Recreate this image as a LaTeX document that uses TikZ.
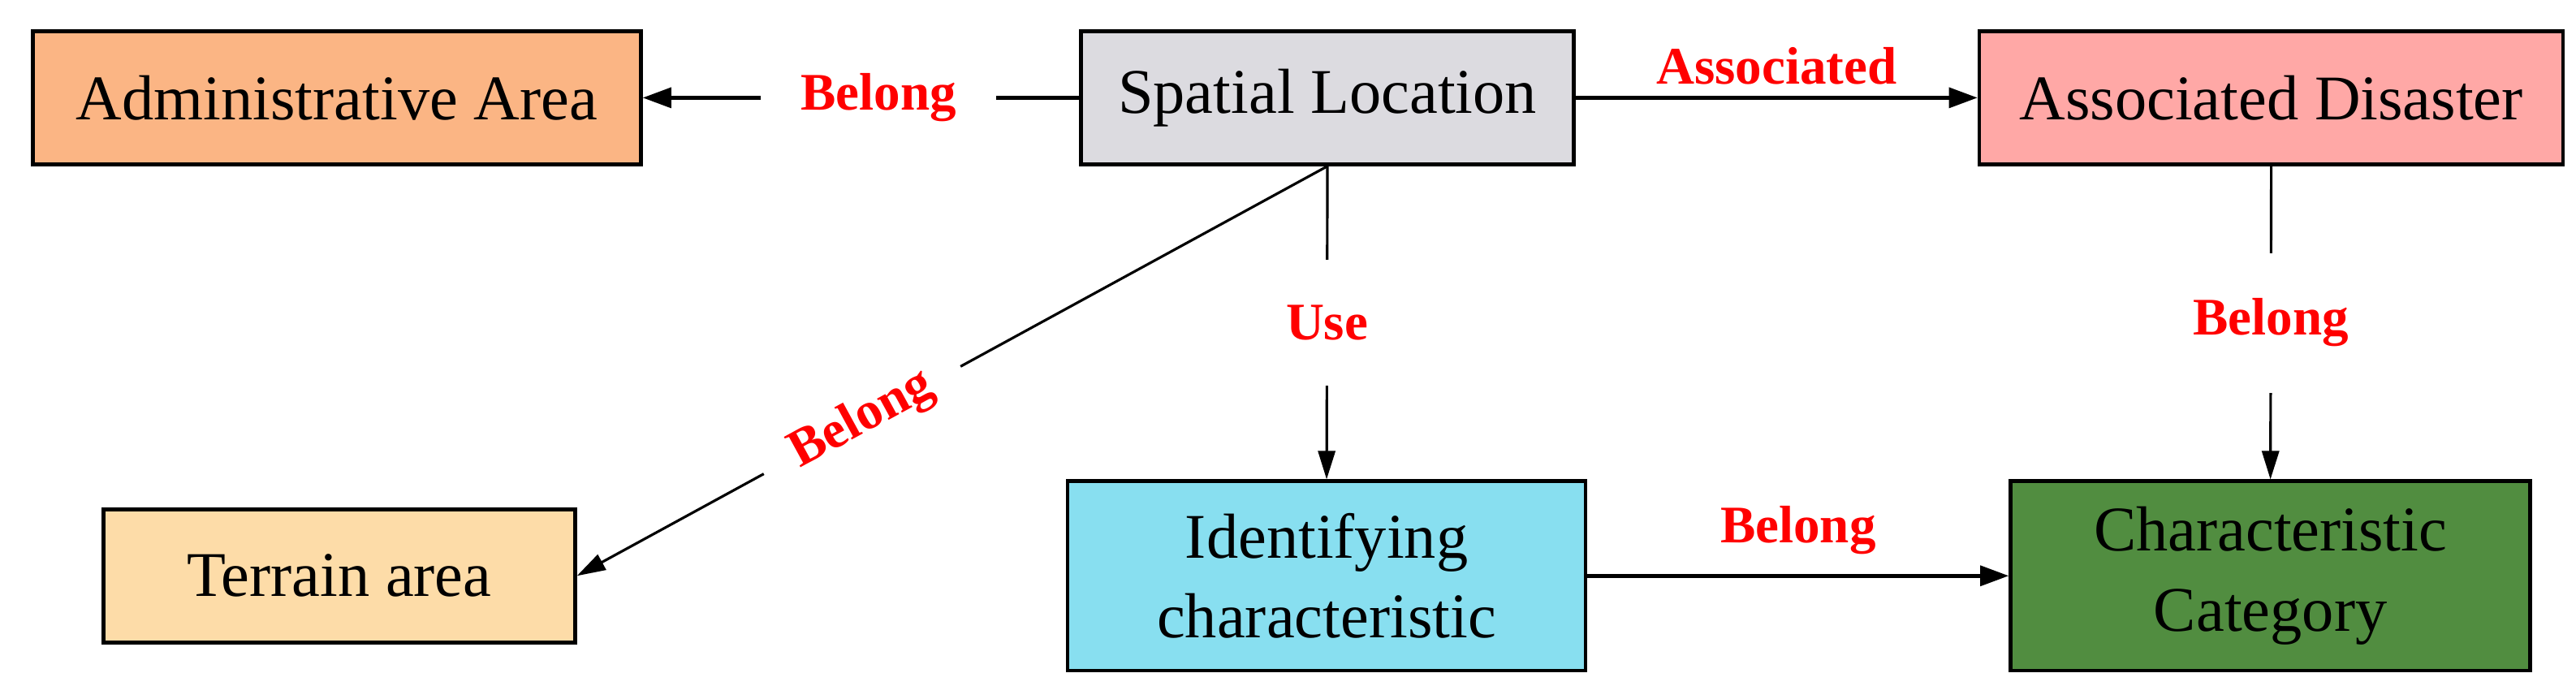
\documentclass[tikz,border=0pt]{standalone}
\usepackage{fontspec}
\setmainfont{Liberation Serif}
\usetikzlibrary{arrows.meta}
\definecolor{cadm}{HTML}{FBB584}
\definecolor{cspa}{HTML}{DCDBE0}
\definecolor{cdis}{HTML}{FFA8A6}
\definecolor{cter}{HTML}{FDDCA8}
\definecolor{cide}{HTML}{88DFF0}
\definecolor{ccat}{HTML}{518D40}
\begin{document}
\begin{tikzpicture}[x=0.02024cm,y=-0.02024cm,
  box/.style={draw=black,line width=1.3pt,inner sep=0pt,font=\fontsize{22.3}{28}\selectfont,align=center},
  lab/.style={text=red,font=\bfseries\fontsize{18.5}{22}\selectfont,inner sep=3pt},
  arr/.style={line width=1.3pt,-{Triangle[length=10pt,width=7pt]}},
  arrt/.style={line width=0.9pt,-{Triangle[length=10pt,width=6pt]}}]
\useasboundingbox (0,0) rectangle (1568,425);
\node[box,fill=cadm,minimum width=7.49cm,minimum height=1.64cm] (adm) at (205,59.5) {Administrative Area};
\node[box,fill=cspa,minimum width=6.07cm,minimum height=1.64cm] (spa) at (808,59.5) {Spatial Location};
\node[box,fill=cdis,minimum width=7.19cm,minimum height=1.64cm] (dis) at (1382.5,59.5) {Associated Disaster};
\node[box,fill=cter,minimum width=5.81cm,minimum height=1.64cm] (ter) at (206.5,350.5) {Terrain area};
\node[box,fill=cide,minimum width=6.38cm,minimum height=2.33cm] (ide) at (807.5,350.5) {Identifying\\characteristic};
\node[box,fill=ccat,minimum width=6.40cm,minimum height=2.33cm] (cat) at (1382,350.5) {Characteristic\\Category};
\draw[arr] (spa.west) -- (adm.east) node[pos=0.46,lab,fill=white,inner xsep=14pt] {Belong};
\draw[arr] (spa.east) -- (dis.west) node[midway,lab,above=1pt] {Associated};
\draw[arrt] (spa.south) -- (ide.north) node[pos=0.5,lab,fill=white,inner ysep=16pt] {Use};
\draw[arrt] (dis.south) -- (cat.north) node[pos=0.5,lab,fill=white,inner ysep=16pt] {Belong};
\draw[arrt] (spa.south) -- (ter.east) node[pos=0.62,lab,fill=white,sloped,inner xsep=12pt] {Belong};
\draw[arr] (ide.east) -- (cat.west) node[midway,lab,above=4pt] {Belong};
\end{tikzpicture}
\end{document}
